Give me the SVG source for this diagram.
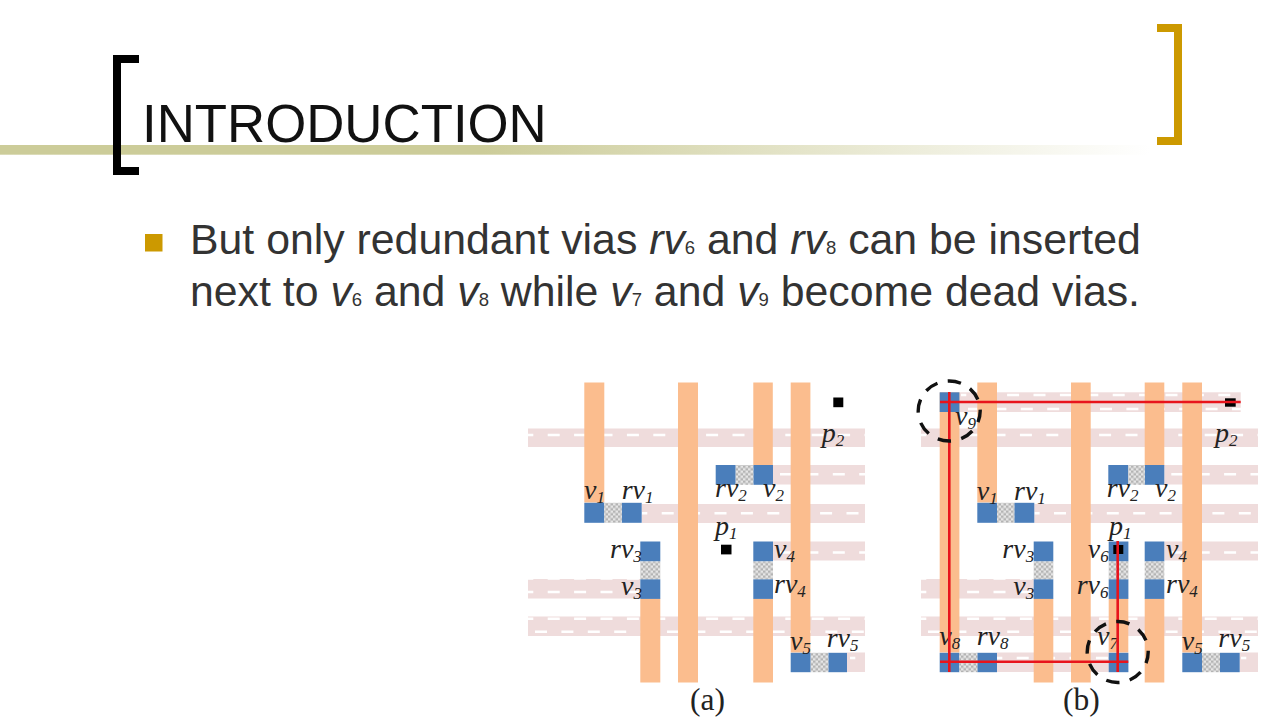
<svg xmlns="http://www.w3.org/2000/svg" width="1280" height="720" viewBox="0 0 1280 720">
<defs>
<linearGradient id="bar"><stop offset="0" stop-color="#cccc99"/><stop offset="0.42" stop-color="#cccc99"/><stop offset="1" stop-color="#ffffff"/></linearGradient>
<pattern id="chk" width="5" height="5" patternUnits="userSpaceOnUse"><rect width="5" height="5" fill="#e6e6e6"/><rect width="2.5" height="2.5" fill="#b4b4b4"/><rect x="2.5" y="2.5" width="2.5" height="2.5" fill="#b4b4b4"/></pattern>
</defs>
<style>
.pink rect{fill:#efdcdc}
.dash path{stroke:#fff;stroke-width:2.600;stroke-dasharray:12 14.400;fill:none}
.dash path.a{stroke-dashoffset:6.700}
.dash path.b{stroke-dashoffset:19.400}
.or rect{fill:#fbbd8e}
.bl rect{fill:#4a7ebb}
.lb text{font:italic 28px "Liberation Serif",serif;fill:#222}
.lb .s{font-size:17px}
.red{stroke:#e8141c;stroke-width:2.600;fill:none}
.ring{stroke:#111;stroke-width:3.400;fill:none;stroke-dasharray:13.500 10.500;stroke-dashoffset:2}
.pt{fill:#000}
.cap{font:31.500px "Liberation Serif",serif;fill:#222}
.body{font:42.800px "Liberation Sans",Arial,sans-serif;fill:#333}
.body .i{font-style:italic}
.body .n{font-size:18.500px}
</style>
<rect width="1280" height="720" fill="#fff"/>
<g id="frame">
<rect x="0" y="145" width="1150" height="9.700" fill="url(#bar)"/>
<path d="M139 59H117V171H139" fill="none" stroke="#000" stroke-width="8"/>
<path d="M1157 28H1178V141H1157" fill="none" stroke="#cc9900" stroke-width="8"/>
</g>
<g id="title"><text x="142" y="141.500" font-family="'Liberation Sans',Arial,sans-serif" font-size="52.800" fill="#111">INTRODUCTION</text></g>
<g id="body">
<rect x="145" y="234" width="17.500" height="17.500" fill="#cc9900"/>
<text class="body" x="190" y="253.500">But only redundant vias <tspan class="i">rv</tspan><tspan class="n">6</tspan> and <tspan class="i">rv</tspan><tspan class="n">8</tspan> can be inserted</text>
<text class="body" x="190" y="305.500">next to <tspan class="i">v</tspan><tspan class="n">6</tspan> and <tspan class="i">v</tspan><tspan class="n">8</tspan> while <tspan class="i">v</tspan><tspan class="n">7</tspan> and <tspan class="i">v</tspan><tspan class="n">9</tspan> become dead vias.</text>
</g>
<g id="panel-a" transform="translate(528 380.500)">
<g class="pink">
<rect x="0" y="48" width="337" height="18.500"/>
<rect x="245" y="84.500" width="92" height="19.500"/>
<rect x="114" y="123.500" width="223" height="19"/>
<rect x="245" y="161" width="92" height="19"/>
<rect x="0" y="198.500" width="112" height="19.500"/>
<rect x="0" y="236" width="337" height="19.500"/>
<rect x="319" y="272" width="18" height="19.500"/>
</g>
<g class="dash">
<path class="a" d="M0 54.500H337"/>
<path class="b" d="M245 93.800H337" stroke-dashoffset="0"/>
<path class="a" d="M114 132.800H337"/>
<path class="b" d="M245 172H337"/>
<path class="a" d="M0 211.500H112"/>
<path class="a" d="M0 198H112"/>
<path class="a" d="M0 238.200H337"/>
<path class="b" d="M0 251.200H337"/>
<path class="a" d="M322 277.500H337"/>
</g>
<g class="or">
<rect x="56.300" y="2" width="20" height="120"/>
<rect x="150" y="2" width="20" height="300"/>
<rect x="225.300" y="2" width="19.500" height="83"/>
<rect x="262.700" y="2" width="19.700" height="270"/>
<rect x="112.300" y="218" width="20" height="84"/>
<rect x="225.300" y="218" width="19.700" height="84"/>
</g>
<g class="bl">
<rect x="56.300" y="122.300" width="20" height="20"/>
<rect x="93.700" y="122.300" width="20" height="20"/>
<rect x="187.700" y="84.500" width="20" height="19.800"/>
<rect x="225.300" y="84.500" width="19.700" height="19.800"/>
<rect x="112.300" y="161" width="20" height="20"/>
<rect x="112.300" y="198.700" width="20" height="19.700"/>
<rect x="225.300" y="161" width="19.700" height="20"/>
<rect x="225.300" y="198.700" width="19.700" height="19.700"/>
<rect x="262.700" y="272.300" width="20" height="19.400"/>
<rect x="300.300" y="272.300" width="18.700" height="19.400"/>
</g>
<g fill="url(#chk)">
<rect x="76.300" y="122.300" width="17.400" height="20"/>
<rect x="207.700" y="84.500" width="17.600" height="19.800"/>
<rect x="112.300" y="181" width="20" height="17.700"/>
<rect x="225.300" y="181" width="19.700" height="17.700"/>
<rect x="282.700" y="272.300" width="17.600" height="19.400"/>
</g>
<g class="lb">
<text x="56" y="118.800">v<tspan class="s" dy="4">1</tspan></text>
<text x="93.700" y="118.800">rv<tspan class="s" dy="4">1</tspan></text>
<text x="187" y="116">rv<tspan class="s" dy="4">2</tspan></text>
<text x="235" y="116">v<tspan class="s" dy="4">2</tspan></text>
<text x="82" y="177.800">rv<tspan class="s" dy="4">3</tspan></text>
<text x="93" y="214.500">v<tspan class="s" dy="4">3</tspan></text>
<text x="246" y="177.800">v<tspan class="s" dy="4">4</tspan></text>
<text x="246" y="212.800">rv<tspan class="s" dy="4">4</tspan></text>
<text x="262" y="269.500">v<tspan class="s" dy="4">5</tspan></text>
<text x="298.700" y="266.800">rv<tspan class="s" dy="4">5</tspan></text>
<text x="293.700" y="61">p<tspan class="s" dy="4">2</tspan></text>
<text x="187" y="154.500">p<tspan class="s" dy="4">1</tspan></text>
</g>
<rect class="pt" x="305.300" y="17" width="10" height="9.700"/>
<rect class="pt" x="193" y="164.200" width="10.500" height="9.700"/>
</g>
<text class="cap" x="690" y="709.500">(a)</text>
<g id="panel-b" transform="translate(921 380.500)">
<g class="pink">
<rect x="38" y="11.800" width="281.700" height="19.700"/>
<rect x="0" y="48" width="337" height="18.500"/>
<rect x="243.300" y="84.500" width="93.700" height="19.500"/>
<rect x="113.300" y="123.500" width="223.700" height="19"/>
<rect x="243.300" y="161" width="93.700" height="19"/>
<rect x="0" y="198.500" width="112.700" height="19.500"/>
<rect x="0" y="236" width="337" height="19.500"/>
<rect x="76" y="272" width="111.700" height="19.500"/>
<rect x="318.700" y="272" width="18.300" height="19.500"/>
</g>
<g class="dash">
<path class="a" d="M40 14.500H320"/>
<path class="b" d="M40 28.500H320"/>
<path class="a" d="M0 54.500H337"/>
<path class="b" d="M243.300 93.800H337"/>
<path class="a" d="M113.300 132.800H337"/>
<path class="b" d="M243.300 172H337"/>
<path class="a" d="M0 198H112.700"/>
<path class="a" d="M0 211.500H112.700"/>
<path class="a" d="M0 238.200H337"/>
<path class="b" d="M0 251.200H337"/>
<path class="a" d="M320 277.500H337"/>
<path class="a" d="M76 277.500H187.700"/>
</g>
<g class="or">
<rect x="18.700" y="12" width="19.700" height="260"/>
<rect x="56.300" y="2" width="19.700" height="120"/>
<rect x="112.700" y="218" width="19.600" height="84"/>
<rect x="150" y="2" width="19.700" height="300"/>
<rect x="187.700" y="218" width="19.600" height="54"/>
<rect x="223.700" y="2" width="19.600" height="83"/>
<rect x="223.700" y="218" width="19.600" height="84"/>
<rect x="261.300" y="2" width="19.700" height="270"/>
</g>
<g class="bl">
<rect x="18.700" y="11.800" width="19.700" height="19.700"/>
<rect x="18.700" y="272.300" width="19.700" height="19.400"/>
<rect x="56.300" y="272.300" width="19.700" height="19.400"/>
<rect x="56.300" y="122.300" width="19.700" height="20"/>
<rect x="93.300" y="122.300" width="20" height="20"/>
<rect x="187.300" y="84.500" width="20" height="19.800"/>
<rect x="223.700" y="84.500" width="19.600" height="19.800"/>
<rect x="112.700" y="161" width="19.600" height="20"/>
<rect x="112.700" y="198.700" width="19.600" height="19.700"/>
<rect x="187.700" y="161" width="19.700" height="20"/>
<rect x="187.700" y="198.700" width="19.700" height="19.700"/>
<rect x="187.700" y="272.300" width="19.700" height="19.400"/>
<rect x="223.700" y="161" width="19.600" height="20"/>
<rect x="223.700" y="198.700" width="19.600" height="19.700"/>
<rect x="261.300" y="272.300" width="19.700" height="19.400"/>
<rect x="299" y="272.300" width="19.700" height="19.400"/>
</g>
<g fill="url(#chk)">
<rect x="38.400" y="272.300" width="17.900" height="19.400"/>
<rect x="76" y="122.300" width="17.300" height="20"/>
<rect x="207.300" y="84.500" width="16.400" height="19.800"/>
<rect x="112.700" y="181" width="19.600" height="17.700"/>
<rect x="187.700" y="181" width="19.700" height="17.700"/>
<rect x="223.700" y="181" width="19.600" height="17.700"/>
<rect x="281" y="272.300" width="18" height="19.400"/>
</g>
<g class="lb">
<text x="34" y="44.500">v<tspan class="s" dy="4">9</tspan></text>
<text x="55.700" y="119">v<tspan class="s" dy="4">1</tspan></text>
<text x="93" y="119">rv<tspan class="s" dy="4">1</tspan></text>
<text x="185.700" y="116">rv<tspan class="s" dy="4">2</tspan></text>
<text x="234" y="116">v<tspan class="s" dy="4">2</tspan></text>
<text x="81.300" y="177.800">rv<tspan class="s" dy="4">3</tspan></text>
<text x="92.300" y="214.500">v<tspan class="s" dy="4">3</tspan></text>
<text x="166.700" y="177.800">v<tspan class="s" dy="4">6</tspan></text>
<text x="155.700" y="213.500">rv<tspan class="s" dy="4">6</tspan></text>
<text x="245" y="177.800">v<tspan class="s" dy="4">4</tspan></text>
<text x="245" y="212.800">rv<tspan class="s" dy="4">4</tspan></text>
<text x="18.300" y="264.500">v<tspan class="s" dy="4">8</tspan></text>
<text x="55.700" y="264.500">rv<tspan class="s" dy="4">8</tspan></text>
<text x="176" y="264.500">v<tspan class="s" dy="4">7</tspan></text>
<text x="260.700" y="269.500">v<tspan class="s" dy="4">5</tspan></text>
<text x="297.300" y="266.800">rv<tspan class="s" dy="4">5</tspan></text>
<text x="294" y="61">p<tspan class="s" dy="4">2</tspan></text>
<text x="188" y="154.500">p<tspan class="s" dy="4">1</tspan></text>
</g>
<rect class="pt" x="304" y="17.800" width="10.700" height="8.400"/>
<rect class="pt" x="192.300" y="164.500" width="10" height="9"/>
</g>
<g id="connectors">
<path class="red" d="M940 402H1240.700M949.300 392V672M940 661.700H1128.300M1117.700 541V672"/>
<ellipse class="ring" cx="949.200" cy="411" rx="31" ry="30"/>
<circle class="ring" cx="1117.700" cy="652" r="30.500"/>
</g>
<text class="cap" x="1063" y="709.500">(b)</text>
</svg>
